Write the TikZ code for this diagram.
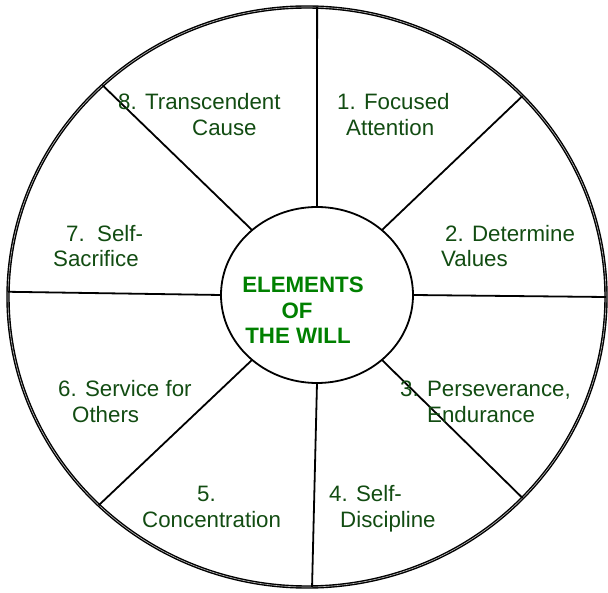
\documentclass[tikz,border=0pt]{standalone}
\usepackage{fontspec}
\setmainfont{Liberation Sans}
\usetikzlibrary{shapes.geometric}
\definecolor{lbl}{RGB}{18,76,18}
\definecolor{ctr}{RGB}{0,128,0}
\begin{document}
\begin{tikzpicture}[x=1pt,y=-1pt,
  ring/.style={ellipse,draw=black,inner sep=0pt,outer sep=0pt},
  spoke/.style={draw=black,line width=1.8pt},
  lab/.style={anchor=base west,inner sep=0pt,text=lbl,font=\fontsize{22.3}{26}\selectfont},
  ctext/.style={anchor=base,inner sep=0pt,text=ctr,font=\fontsize{22.3}{26}\selectfont\bfseries}]
\useasboundingbox (0,0) rectangle (608,593);
\node[ring,line width=1.4pt,double=gray!50,double distance=0.6pt,minimum width=598pt,minimum height=580pt] (outer) at (307,297) {};
\node[ring,line width=1.8pt,fill=white,minimum width=192pt,minimum height=176pt] (hub) at (317,295) {};
\draw[spoke] (hub.north) -- (outer.88.2);
\draw[spoke] (hub.south) -- (outer.271.6);
\draw[spoke] (hub.west) -- (outer.179.3);
\draw[spoke] (hub.east) -- (outer.0.6);
\draw[spoke] (hub.135) -- (outer.134.4);
\draw[spoke] (hub.45) -- (outer.43.8);
\draw[spoke] (hub.225) -- (outer.225.1);
\draw[spoke] (hub.315) -- (outer.317.7);
% labels
\node[lab] (l8a) at (118,110) {8. Transcendent};
\node[lab] (l8b) at (192,136) {Cause};
\node[lab] (l1a) at (337,110) {1. Focused};
\node[lab] (l1b) at (346,136) {Attention};
\node[lab] (l2a) at (445,242) {2. Determine};
\node[lab] (l2b) at (441,267) {Values};
\node[lab] (l7a) at (66,242) {7.\ \ Self-};
\node[lab] (l7b) at (53,267) {Sacrifice};
\node[lab] (l6a) at (58,397) {6. Service for};
\node[lab] (l6b) at (72,423) {Others};
\node[lab] (l3a) at (400,397) {3. Perseverance,};
\node[lab] (l3b) at (427,423) {Endurance};
\node[lab] (l5a) at (197,501) {5.};
\node[lab] (l5b) at (142,527) {Concentration};
\node[lab] (l4a) at (329,501) {4. Self-};
\node[lab] (l4b) at (340,527) {Discipline};
\node[ctext] (c1) at (303,293) {ELEMENTS};
\node[ctext] (c2) at (297,319) {OF};
\node[ctext] (c3) at (298,344) {THE WILL};
\end{tikzpicture}
\end{document}
